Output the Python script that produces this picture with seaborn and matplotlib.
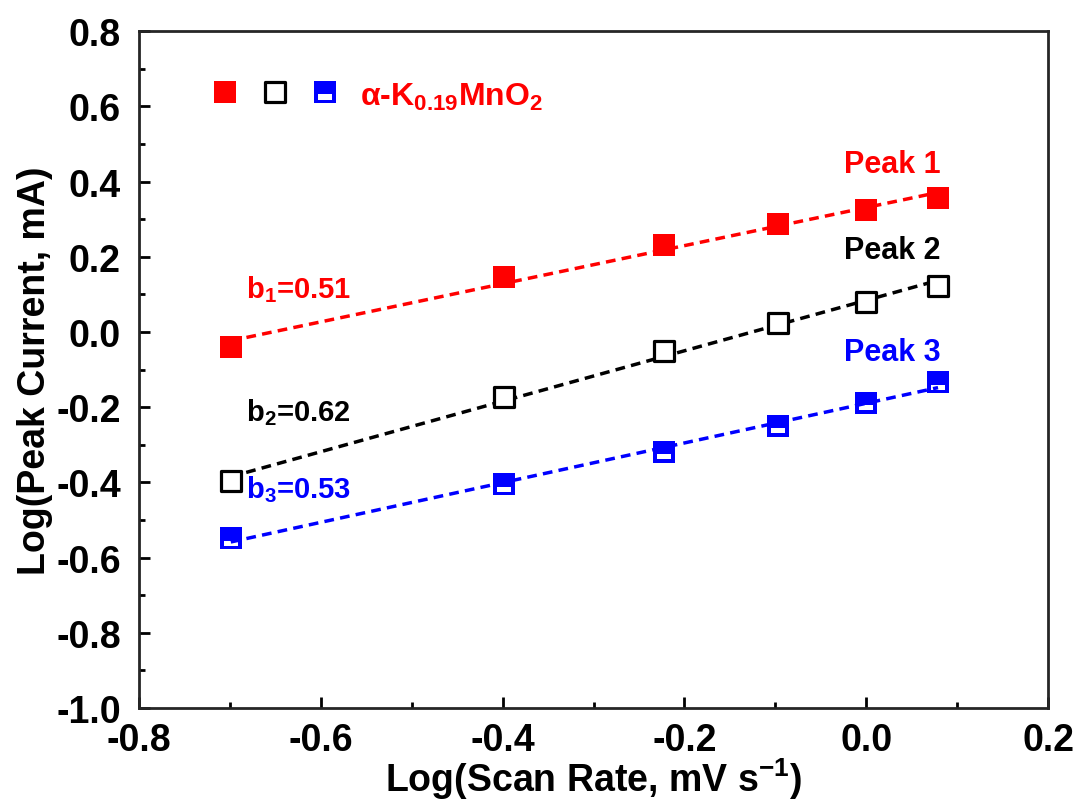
import numpy as np
import pandas as pd
import seaborn as sns
import matplotlib.pyplot as plt
from matplotlib.path import Path

# scan rates 0.2 ... 1.2 mV/s on log scale
log_rate = [-0.699, -0.398, -0.222, -0.097, 0.0, 0.079]
peak1 = [-0.040, 0.147, 0.232, 0.287, 0.325, 0.357]
peak2 = [-0.397, -0.174, -0.050, 0.025, 0.081, 0.123]
peak3 = [-0.549, -0.405, -0.318, -0.249, -0.188, -0.134]
peak_names = ["Peak 1", "Peak 2", "Peak 3"]
b_labels = ["b$_1$=0.51", "b$_2$=0.62", "b$_3$=0.53"]
colors = ["#ff0000", "#000000", "#0000ff"]
xticks = [-0.8, -0.6, -0.4, -0.2, 0.0, 0.2]
yticks = [-1.0, -0.8, -0.6, -0.4, -0.2, 0.0, 0.2, 0.4, 0.6, 0.8]

sns.set_style("ticks")
plt.rcParams["font.family"] = ["Liberation Sans", "DejaVu Sans"]
plt.rcParams["font.weight"] = "bold"
plt.rcParams["axes.labelweight"] = "bold"
plt.rcParams["text.color"] = "black"
plt.rcParams["axes.labelcolor"] = "black"
plt.rcParams["xtick.color"] = "black"
plt.rcParams["ytick.color"] = "black"
plt.rcParams["mathtext.fontset"] = "custom"
plt.rcParams["mathtext.rm"] = "Liberation Sans:bold"
plt.rcParams["mathtext.bf"] = "Liberation Sans:bold"
plt.rcParams["mathtext.default"] = "bf"

df = pd.DataFrame({"x": log_rate, "Peak 1": peak1, "Peak 2": peak2, "Peak 3": peak3})

# blue square with a white slot in its lower half
verts = [(-1, -1), (1, -1), (1, 1), (-1, 1), (-1, -1),
         (-0.64, -0.68), (-0.64, -0.22), (0.64, -0.22), (0.64, -0.68), (-0.64, -0.68)]
codes = [Path.MOVETO, Path.LINETO, Path.LINETO, Path.LINETO, Path.CLOSEPOLY] * 2
slot_square = Path(verts, codes)

fig = plt.figure(figsize=(10.75, 8.03), dpi=100)
ax = fig.add_axes([0.1293, 0.117, 0.8456, 0.843])

xfit = np.array([log_rate[0], log_rate[-1]])
for name, c in zip(peak_names, colors):
    k, b0 = np.polyfit(df["x"], df[name], 1)
    sns.lineplot(x=xfit, y=k * xfit + b0, color=c, lw=2.5, ax=ax,
                 linestyle=(0, (2.8, 1.8)))

sns.scatterplot(data=df, x="x", y="Peak 1", marker="s", s=250, color=colors[0],
                edgecolor=colors[0], linewidth=0, ax=ax, zorder=3)
sns.scatterplot(data=df, x="x", y="Peak 2", marker="s", s=205, facecolor="white",
                edgecolor=colors[1], linewidth=2.3, ax=ax, zorder=3)
sns.scatterplot(data=df, x="x", y="Peak 3", marker=slot_square, s=250, color=colors[2],
                edgecolor="none", linewidth=0, ax=ax, zorder=3)

# legend row
ax.scatter([0.095], [0.91], transform=ax.transAxes, marker="s", s=250, color=colors[0], lw=0)
ax.scatter([0.150], [0.91], transform=ax.transAxes, marker="s", s=205, facecolor="white",
           edgecolor=colors[1], lw=2.3)
ax.scatter([0.205], [0.91], transform=ax.transAxes, marker=slot_square, s=250,
           color=colors[2], edgecolor="none", lw=0)
ax.text(0.243, 0.903, r"$\alpha$-K$_{0.19}$MnO$_2$", transform=ax.transAxes,
        color=colors[0], fontsize=23, va="center", ha="left")

peak_pos = [(-0.024, 0.447), (-0.024, 0.219), (-0.024, -0.052)]
b_pos = [(-0.682, 0.115), (-0.682, -0.212), (-0.682, -0.416)]
for name, lab, c, pp, bp in zip(peak_names, b_labels, colors, peak_pos, b_pos):
    ax.text(pp[0], pp[1], name, color=c, fontsize=22, ha="left", va="center")
    ax.text(bp[0], bp[1], lab, color=c, fontsize=21, ha="left", va="center")

ax.set_xlim(-0.8, 0.2)
ax.set_ylim(-1.0, 0.8)
ax.set_xticks(xticks)
ax.set_yticks(yticks)
ax.set_xticks(np.arange(-0.7, 0.2, 0.2), minor=True)
ax.set_yticks(np.arange(-0.9, 0.8, 0.2), minor=True)
ax.set_xticklabels([f"{v:.1f}" for v in xticks])
ax.set_yticklabels([f"{v:.1f}" for v in yticks])
ax.tick_params(which="major", direction="in", length=8, width=2, labelsize=27)
ax.tick_params(axis="x", which="major", pad=10)
ax.tick_params(axis="y", which="major", pad=13)
ax.tick_params(which="minor", direction="in", length=4, width=2)
for sp in ax.spines.values():
    sp.set_linewidth(2)
    sp.set_visible(True)
ax.set_xlabel("Log(Scan Rate, mV s$^{-1}$)", fontsize=27, labelpad=-2)
ax.set_ylabel("Log(Peak Current, mA)", fontsize=27, labelpad=2)

fig.savefig("out.png", dpi=100)
